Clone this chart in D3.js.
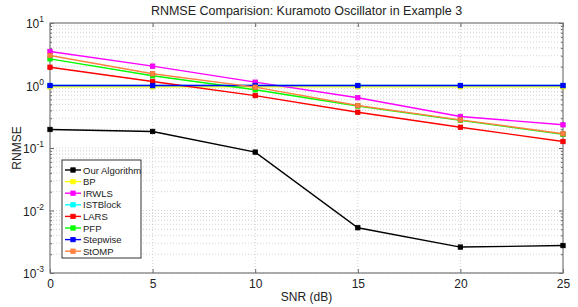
<!DOCTYPE html>
<html>
<head>
<script src="https://d3js.org/d3.v7.min.js"></script>
<style>
body { margin: 0; background: #fff; }
text { font-family: "Liberation Sans", Arial, sans-serif; fill: #222; }
</style>
</head>
<body>
<div id="chart"></div>
<script>
// data
var snr = [0, 5, 10, 15, 20, 25];
var names = ["Our Algorithm", "BP", "IRWLS", "ISTBlock", "LARS", "PFP", "Stepwise", "StOMP"];
var colors = ["#000000", "#ffff00", "#ff00ff", "#00ffff", "#ff0000", "#00ff00", "#0000ff", "#ff8040"];
var ourAlg   = [0.198, 0.184, 0.086, 0.0053, 0.0026, 0.00275];
var bp       = [0.955, 0.955, 0.955, 0.955, 0.955, 0.955];
var irwls    = [3.5, 2.04, 1.13, 0.636, 0.319, 0.235];
var istblock = [1.0, 1.0, 1.0, 1.0, 1.0, 1.0];
var lars     = [1.96, 1.16, 0.69, 0.374, 0.215, 0.127];
var pfp      = [2.67, 1.43, 0.853, 0.47, 0.277, 0.165];
var stepwise = [1.0, 1.0, 1.0, 1.0, 1.0, 1.0];
var stomp    = [3.02, 1.54, 0.94, 0.479, 0.282, 0.169];
var series = [ourAlg, bp, irwls, istblock, lars, pfp, stepwise, stomp];
var yTicks = [1e-3, 1e-2, 1e-1, 1e0, 1e1];
var yExp = ["-3", "-2", "-1", "0", "1"];

const W = 578, H = 307;
const margin = {top: 23, right: 15, bottom: 34, left: 50};
const width = W - margin.left - margin.right;
const height = H - margin.top - margin.bottom;

var svg = d3.select("#chart").append("svg")
    .attr("width", W).attr("height", H);

var g = svg.append("g")
    .attr("transform", "translate(" + margin.left + "," + margin.top + ")");

var x = d3.scaleLinear().domain([0, 25]).range([0, width]);
var y = d3.scaleLog().domain([1e-3, 10]).range([height, 0]);

// grid
var minor = [];
for (var e = -3; e < 1; e++) {
  for (var k = 1; k <= 9; k++) minor.push(k * Math.pow(10, e));
}
g.selectAll(".hgrid").data(minor).enter().append("line")
  .attr("x1", 0).attr("x2", width)
  .attr("y1", d => y(d)).attr("y2", d => y(d))
  .attr("stroke", "#c8c8c8").attr("stroke-width", 0.8)
  .attr("stroke-dasharray", "1,2");
g.selectAll(".vgrid").data(snr.slice(1, -1)).enter().append("line")
  .attr("x1", d => x(d)).attr("x2", d => x(d))
  .attr("y1", 0).attr("y2", height)
  .attr("stroke", "#c8c8c8").attr("stroke-width", 0.8)
  .attr("stroke-dasharray", "1,2");

// axes (MATLAB style, ticks inside)
g.append("g").attr("transform", "translate(0," + height + ")")
  .call(d3.axisBottom(x).tickValues(snr).tickSize(-4).tickPadding(6).tickFormat(d3.format("d")))
  .call(a => a.select(".domain").remove())
  .call(a => a.selectAll("line").attr("stroke", "#666"))
  .call(a => a.selectAll("text").attr("font-size", 12).attr("font-family", "Liberation Sans, Arial").attr("fill", "#222"));
g.append("g")
  .call(d3.axisTop(x).tickValues(snr).tickSize(-4).tickFormat(""))
  .call(a => a.select(".domain").remove())
  .call(a => a.selectAll("line").attr("stroke", "#666"));

var yl = g.append("g")
  .call(d3.axisLeft(y).tickValues(minor.concat([10])).tickSize(-2).tickFormat(""))
  .call(a => a.select(".domain").remove())
  .call(a => a.selectAll("line").attr("stroke", "#666"));
yl.selectAll(".tick").filter(d => Math.abs(Math.log10(d) % 1) < 1e-9)
  .select("line").attr("x2", 4);
var yr = g.append("g").attr("transform", "translate(" + width + ",0)")
  .call(d3.axisRight(y).tickValues(minor.concat([10])).tickSize(-2).tickFormat(""))
  .call(a => a.select(".domain").remove())
  .call(a => a.selectAll("line").attr("stroke", "#666"));
yr.selectAll(".tick").filter(d => Math.abs(Math.log10(d) % 1) < 1e-9)
  .select("line").attr("x2", -4);

// y tick labels 10^n
var lab = g.selectAll(".ylab").data(yTicks).enter().append("text")
  .attr("x", -6).attr("y", d => y(d) + 5)
  .attr("text-anchor", "end").attr("font-size", 12);
lab.append("tspan").text("10");
lab.append("tspan").attr("dy", -6).attr("font-size", 8.5).text((d, i) => yExp[i]);

g.append("rect").attr("width", width).attr("height", height)
  .attr("fill", "none").attr("stroke", "#777").attr("stroke-width", 1.2);

// lines
var line = d3.line().x((d, i) => x(snr[i])).y(d => y(d));
series.forEach(function(s, j) {
  g.append("path").datum(s)
    .attr("fill", "none").attr("stroke", colors[j]).attr("stroke-width", 1.4)
    .attr("d", line);
  g.selectAll(".m" + j).data(s).enter().append("rect")
    .attr("x", (d, i) => x(snr[i]) - 2.2).attr("y", d => y(d) - 2.2)
    .attr("width", 4.4).attr("height", 4.4)
    .attr("fill", colors[j]).attr("stroke", d3.color(colors[j]).darker(0.3))
    .attr("stroke-width", 0.8);
});

// title and labels
svg.append("text").attr("x", margin.left + width / 2).attr("y", 15)
  .attr("text-anchor", "middle").attr("font-size", 12.5)
  .text("RNMSE Comparision: Kuramoto Oscillator in Example 3");
svg.append("text").attr("x", margin.left + width / 2).attr("y", 301)
  .attr("text-anchor", "middle").attr("font-size", 12).text("SNR (dB)");
svg.append("text").attr("transform", "translate(21," + (margin.top + height / 2) + ") rotate(-90)")
  .attr("text-anchor", "middle").attr("font-size", 12).text("RNMSE");

// legend
var lg = svg.append("g").attr("transform", "translate(62,160)");
lg.append("rect").attr("width", 79).attr("height", 98)
  .attr("fill", "#fff").attr("stroke", "#333").attr("stroke-width", 1);
names.forEach(function(n, j) {
  var yy = 10 + j * 11.6;
  lg.append("line").attr("x1", 3).attr("x2", 19).attr("y1", yy).attr("y2", yy)
    .attr("stroke", colors[j]).attr("stroke-width", 1.4);
  lg.append("rect").attr("x", 8.8).attr("y", yy - 2.2).attr("width", 4.4).attr("height", 4.4)
    .attr("fill", colors[j]).attr("stroke", colors[j]).attr("stroke-width", 0.8);
  lg.append("text").attr("x", 21).attr("y", yy + 3.5).attr("font-size", 9.5).text(n);
});
</script>
</body>
</html>
